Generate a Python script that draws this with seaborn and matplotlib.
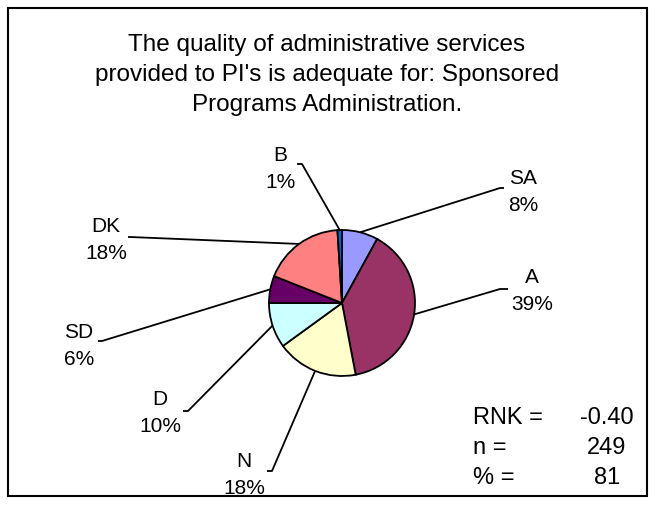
import matplotlib
matplotlib.use("Agg")
import matplotlib.pyplot as plt
import matplotlib.patches as patches
import numpy as np
import seaborn as sns

# data
categories = ['SA', 'A', 'N', 'D', 'SD', 'DK', 'B']
percents = [8, 39, 18, 10, 6, 18, 1]
colors = ['#9999FF', '#993366', '#FFFFCC', '#CCFFFF', '#660066', '#FF8080', '#0066CC']
title = "The quality of administrative services\nprovided to PI's is adequate for: Sponsored\nPrograms Administration."
stat_names = ['RNK =', 'n =', '% =']
stat_values = ['-0.40', '249', '81']

# layout (pixel coords, y from top)
W, H = 655, 506
pie_center = (342, 304)
pie_radius = 73
# label centre, elbow of leader line, end of leader line next to label
label_pos = {
    'SA': ((523, 192), (500, 189), (504, 189)),
    'A': ((532, 291), (500, 290), (508, 290)),
    'N': ((244, 475), (272, 472), (267, 472)),
    'D': ((160, 413), (188, 412), (183, 412)),
    'SD': ((79, 346), (102, 342), (98, 342)),
    'DK': ((106, 240), (130, 238), (128, 238)),
    'B': ((280, 169), (302, 165), (297, 165)),
}


def px(x, y):
    return x, H - y


def main():
    sns.set_style("white")
    plt.rcParams['font.family'] = ['Liberation Sans', 'DejaVu Sans']
    plt.rcParams['text.color'] = 'black'

    fig = plt.figure(figsize=(W / 100, H / 100), dpi=100)
    ax = fig.add_axes([0, 0, 1, 1])

    wedges, _ = ax.pie(percents, colors=sns.color_palette(colors), startangle=90, counterclock=False,
                       center=px(*pie_center), radius=pie_radius,
                       wedgeprops=dict(edgecolor='black', linewidth=1.3))
    ax.set_aspect('equal')
    ax.set_xlim(0, W)
    ax.set_ylim(0, H)
    ax.axis('off')

    cx, cy = px(*pie_center)
    for w, cat, pct in zip(wedges, categories, percents):
        mid = np.deg2rad((w.theta1 + w.theta2) / 2)
        ex, ey = cx + pie_radius * np.cos(mid), cy + pie_radius * np.sin(mid)
        (lx, ly), elbow, end = label_pos[cat]
        xs = [ex, px(*elbow)[0], px(*end)[0]]
        ys = [ey, px(*elbow)[1], px(*end)[1]]
        ax.plot(xs, ys, color='black', lw=1.3, solid_capstyle='butt', zorder=0)
        ax.text(*px(lx, ly), f"{cat}\n{pct}%", ha='center', va='center', fontsize=15,
                linespacing=1.55)

    ax.text(*px(327, 75), title, ha='center', va='center', fontsize=17.5, linespacing=1.47)

    for i, (name, val) in enumerate(zip(stat_names, stat_values)):
        y = 418 + 30 * i
        ax.text(*px(473, y), name, ha='left', va='center', fontsize=17)
        ax.text(*px(607, y), val, ha='center', va='center', fontsize=17)

    border = patches.Rectangle((8 / W, 9 / H), (647 - 8) / W, (497 - 9) / H, transform=fig.transFigure,
                               fill=False, edgecolor='black', lw=1.5)
    fig.patches.append(border)

    plt.savefig('out.png', dpi=100)
    plt.close()


if __name__ == "__main__":
    main()
